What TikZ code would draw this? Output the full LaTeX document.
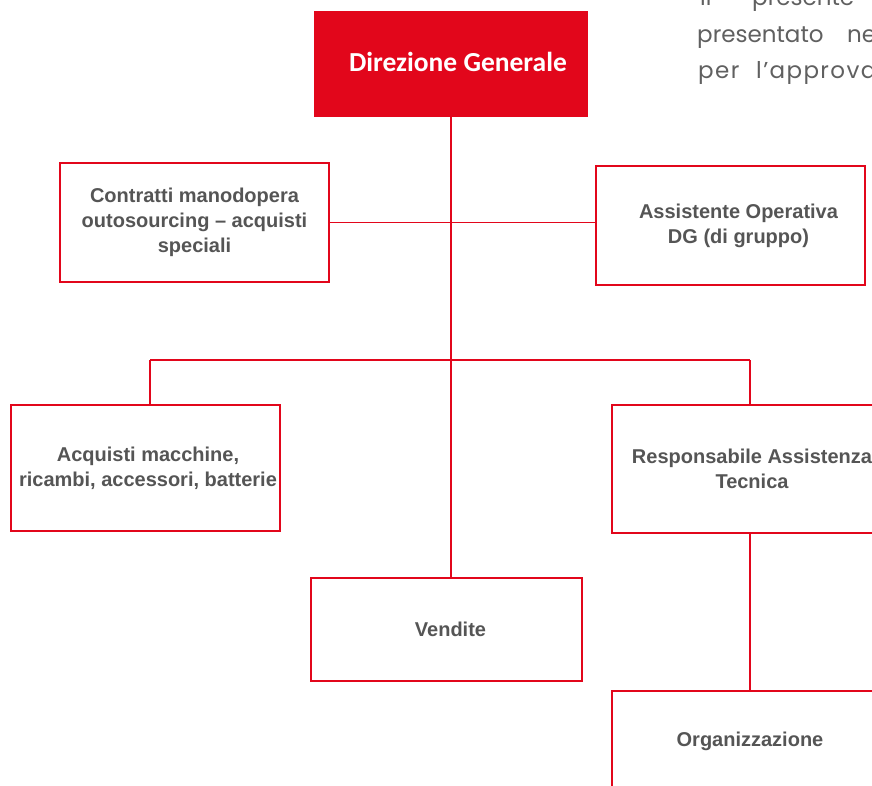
\documentclass[tikz,border=0pt]{standalone}
\usepackage{fontspec}
\setmainfont{Liberation Sans}
\newfontfamily\calib{Carlito}
\newfontfamily\gothic{Poppins}
\newfontfamily\gothicwide[LetterSpace=6]{Poppins}
\definecolor{rosso}{HTML}{E2061B}
\definecolor{grigio}{HTML}{555555}
\definecolor{testo}{HTML}{606060}
\newcommand{\sh}[1]{\hspace*{#1pt}}
\begin{document}
\begin{tikzpicture}[x=1pt,y=-1pt,
  box/.style={draw=rosso, line width=1.5pt, fill=white, align=center,
    font=\fontsize{20}{25}\selectfont\bfseries, text=grigio, inner sep=0pt},
  conn/.style={draw=rosso, line width=1.4pt},
  para/.style={anchor=base west, inner sep=0pt, text=testo, font=\gothic\fontsize{23}{28}\selectfont}]
\useasboundingbox (0,0) rectangle (872,785);
\clip (0,0) rectangle (872,785);
\fill[white] (0,0) rectangle (872,785);

% paragraph text at top right
\node[para] (p1a) at (700,5) {il};
\node[para] (p1b) at (752,5) {presente};
\node[para] (p2a) at (697,42) {presentato};
\node[para] (p2b) at (847,42) {nel};
\node[para, font=\gothicwide\fontsize{23}{28}\selectfont] (p3a) at (698,78) {per};
\node[para, font=\gothicwide\fontsize{23}{28}\selectfont] (p3b) at (756,78) {l’approvazione};

% boxes
\node[box, fill=rosso, text=white, minimum width=272, minimum height=104,
  font=\calib\fontsize{27.5}{32}\selectfont\bfseries] (dg) at (451,64) {\raisebox{5pt}{\sh{14}Direzione Generale}};
\node[box, minimum width=269, minimum height=119] (contr) at (194.5,222.5)
  {Contratti manodopera\\outosourcing -- acquisti\\speciali};
\node[box, minimum width=269, minimum height=119] (assist) at (730.5,225.5)
  {\sh{16}Assistente Operativa\\\sh{16}DG (di gruppo)};
\node[box, minimum width=269, minimum height=126] (acq) at (145.5,468)
  {\sh{5}Acquisti macchine,\\\sh{5}ricambi, accessori, batterie};
\node[box, minimum width=276, minimum height=128] (resp) at (750,469)
  {\sh{4}Responsabile Assistenza\\\sh{4}Tecnica};
\node[box, minimum width=271, minimum height=103] (vend) at (446.5,629.5)
  {\sh{8}Vendite};
\node[box, minimum width=276, minimum height=100] (org) at (750,741)
  {Organizzazione};

% connectors
\coordinate (busL) at (150,360);
\coordinate (busR) at (750,360);
\draw[conn] (dg.south) -- (dg.south |- vend.north);
\draw[conn] (contr.east) -- (contr.east -| assist.west);
\draw[conn] (busL) -- (busR);
\draw[conn] (busL) -- (busL |- acq.north);
\draw[conn] (busR) -- (resp.north);
\draw[conn] (resp.south) -- (org.north);
\end{tikzpicture}
\end{document}
